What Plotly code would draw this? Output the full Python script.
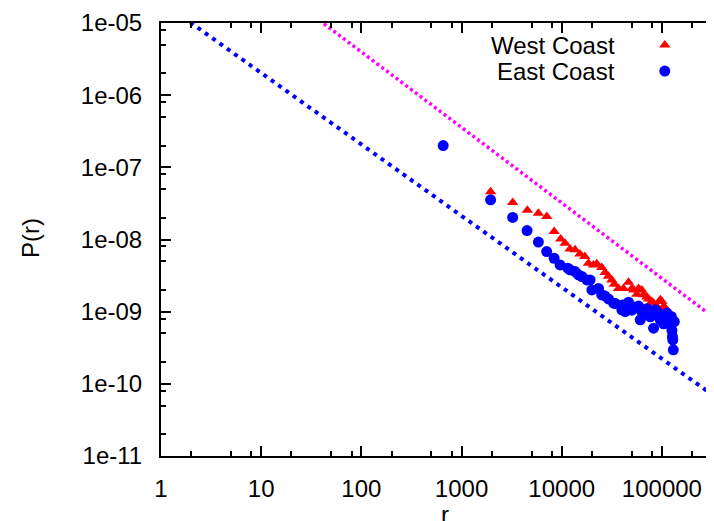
import plotly.graph_objects as go

# ---------------- data ----------------
west_r = [1950, 3240, 4540, 5850, 7100, 8400, 9770, 10800, 12100, 13600, 15200, 17000,
          18500, 20700, 22400, 25100, 27100, 29300, 31600, 33500, 36900, 41400, 46400,
          50100, 52500, 56200, 58400, 63000, 65500, 70800, 73600, 79400, 82600, 89100,
          96400, 100000, 104000, 108000]
west_p = [4.6e-8, 3.25e-8, 2.55e-8, 2.31e-8, 2.08e-8, 1.29e-8, 1.02e-8, 8.9e-9, 7.4e-9,
          7.2e-9, 6.3e-9, 5.8e-9, 4.7e-9, 4.45e-9, 4.6e-9, 4.1e-9, 3.5e-9, 3.1e-9, 2.75e-9,
          2.4e-9, 2.1e-9, 2.1e-9, 2.55e-9, 2.1e-9, 2.0e-9, 1.75e-9, 2.1e-9, 2.0e-9, 1.71e-9,
          1.6e-9, 1.5e-9, 1.38e-9, 1.31e-9, 1.18e-9, 1.46e-9, 1.38e-9, 1.18e-9, 1.12e-9]

east_r = [656, 1950, 3240, 4510, 5850, 7080, 8400, 9640, 11500, 12100, 13600, 14700,
          15900, 17800, 19200, 20000, 23300, 25100, 27000, 29300, 32900, 34200, 39800,
          40500, 43000, 46400, 50100, 53000, 58400, 60800, 63000, 68200, 70800, 73600,
          76600, 82600, 85900, 89100, 92700, 96400, 100000, 104000, 108000, 112000,
          116700, 121300, 124000, 126000, 127500, 128500, 130000, 133000]
east_p = [2.0e-7, 3.55e-8, 2.02e-8, 1.33e-8, 9.2e-9, 6.8e-9, 5.5e-9, 4.45e-9, 4.0e-9,
          3.8e-9, 3.6e-9, 3.24e-9, 3.07e-9, 2.75e-9, 2.75e-9, 2.0e-9, 2.1e-9, 1.71e-9,
          1.65e-9, 1.5e-9, 1.31e-9, 1.3e-9, 1.06e-9, 1.24e-9, 1.0e-9, 1.35e-9, 1.05e-9,
          1.15e-9, 1.2e-9, 7.7e-10, 1.0e-9, 1.0e-9, 1.1e-9, 9.0e-10, 8.5e-10, 5.9e-10,
          1.06e-9, 1.0e-9, 9.0e-10, 7.7e-10, 8.0e-10, 6.8e-10, 7.5e-10, 9.6e-10, 8.5e-10,
          6.6e-10, 8.6e-10, 5.5e-10, 4.5e-10, 4.07e-10, 2.96e-10, 7.3e-10]

# power-law guide lines  P = A * r^k
blue_fit_A, blue_fit_k = 1.986e-5, -0.99
magenta_fit_A, magenta_fit_k = 4.91e-4, -1.046
fit_r = [1, 1e6]

x_tick_vals = [1, 10, 100, 1000, 10000, 100000]
x_tick_text = ["1", "10", "100", "1000", "10000", "100000"]
y_tick_vals = [1e-11, 1e-10, 1e-9, 1e-8, 1e-7, 1e-6, 1e-5]
y_tick_text = ["1e-11", "1e-10", "1e-09", "1e-08", "1e-07", "1e-06", "1e-05"]
minor_digits = [2, 5, 8]
x_minor = [d * 10 ** k for k in range(0, 6) for d in minor_digits]
y_minor = [d * 10.0 ** k for k in range(-11, -5) for d in minor_digits]

legend_labels = ["West Coast", "East Coast"]
x_title, y_title = "r", "P(r)"

# ---------------- figure ----------------
FONT = "Liberation Sans, Arial, sans-serif"
fig = go.Figure()

fig.add_trace(go.Scatter(x=fit_r, y=[blue_fit_A * r ** blue_fit_k for r in fit_r],
                         mode="lines", line=dict(color="#0000ff", width=4, dash="4px,5px"),
                         showlegend=False, hoverinfo="skip"))
fig.add_trace(go.Scatter(x=fit_r, y=[magenta_fit_A * r ** magenta_fit_k for r in fit_r],
                         mode="lines", line=dict(color="#ff00ff", width=3.5, dash="3px,3px"),
                         showlegend=False, hoverinfo="skip"))
fig.add_trace(go.Scatter(x=west_r, y=west_p, mode="markers", name=legend_labels[0],
                         marker=dict(symbol="triangle-up", size=10, color="#ff0000"),
                         showlegend=False))
fig.add_trace(go.Scatter(x=east_r, y=east_p, mode="markers", name=legend_labels[1],
                         marker=dict(symbol="circle", size=11, color="#0000ff"),
                         showlegend=False))

# empty trace to keep right mirror axis alive
fig.add_trace(go.Scatter(x=[None], y=[None], xaxis="x", yaxis="y2", showlegend=False,
                         hoverinfo="skip"))
# legend key markers on a hidden overlay axis
fig.add_trace(go.Scatter(x=[0.898], y=[0.949], xaxis="x3", yaxis="y3", mode="markers",
                         marker=dict(symbol="triangle-up", size=10, color="#ff0000"),
                         showlegend=False, hoverinfo="skip"))
fig.add_trace(go.Scatter(x=[0.898], y=[0.889], xaxis="x3", yaxis="y3", mode="markers",
                         marker=dict(symbol="circle", size=11, color="#0000ff"),
                         showlegend=False, hoverinfo="skip"))

for lbl, yy in zip(legend_labels, [0.949, 0.889]):
    fig.add_annotation(text=lbl, xref="paper", yref="paper", x=0.812, y=yy,
                       xanchor="right", yanchor="middle", showarrow=False,
                       font=dict(family=FONT, size=24, color="black"))

# axis titles
fig.add_annotation(text=x_title, xref="paper", yref="paper", x=0.506, y=-0.134,
                   xanchor="center", yanchor="middle", showarrow=False,
                   font=dict(family=FONT, size=24, color="black"))
fig.add_annotation(text=y_title, xref="paper", yref="paper", x=-0.234, y=0.503,
                   xanchor="center", yanchor="middle", showarrow=False, textangle=-90,
                   font=dict(family=FONT, size=24, color="black"))

axis_common = dict(showgrid=False, zeroline=False, ticks="inside", ticklen=10, tickwidth=2,
                   tickcolor="black", linecolor="black", linewidth=2,
                   tickfont=dict(family=FONT, size=24, color="black"))

fig.update_layout(
    width=714, height=521,
    margin=dict(l=153, r=0, t=15, b=73, pad=0),
    paper_bgcolor="white", plot_bgcolor="white",
    font=dict(family=FONT, size=24, color="black"),
    xaxis=dict(type="log", range=[0, 5.6], showline=True, mirror="ticks",
               tickmode="array", tickvals=x_tick_vals, ticktext=x_tick_text,
               minor=dict(tickmode="array", tickvals=x_minor, ticks="inside", ticklen=5,
                          tickwidth=2, tickcolor="black"),
               ticklabelstandoff=10, **axis_common),
    yaxis=dict(type="log", range=[-11, -5], showline=True, mirror=False,
               tickmode="array", tickvals=y_tick_vals, ticktext=y_tick_text,
               minor=dict(tickmode="array", tickvals=y_minor, ticks="inside", ticklen=5,
                          tickwidth=2, tickcolor="black"),
               ticklabelstandoff=12, **axis_common),
    yaxis2=dict(type="log", range=[-11, -5], overlaying="y", side="right", anchor="x",
                showline=False, showticklabels=False, showgrid=False, zeroline=False,
                ticks="inside", ticklen=10, tickwidth=2, tickcolor="black",
                tickmode="array", tickvals=y_tick_vals,
                minor=dict(tickmode="array", tickvals=y_minor, ticks="inside", ticklen=5,
                           tickwidth=2, tickcolor="black")),
    xaxis3=dict(range=[0, 1], overlaying="x", visible=False, anchor="y3"),
    yaxis3=dict(range=[0, 1], overlaying="y", visible=False, anchor="x3"),
    showlegend=False,
)

fig.write_html("out.html")
